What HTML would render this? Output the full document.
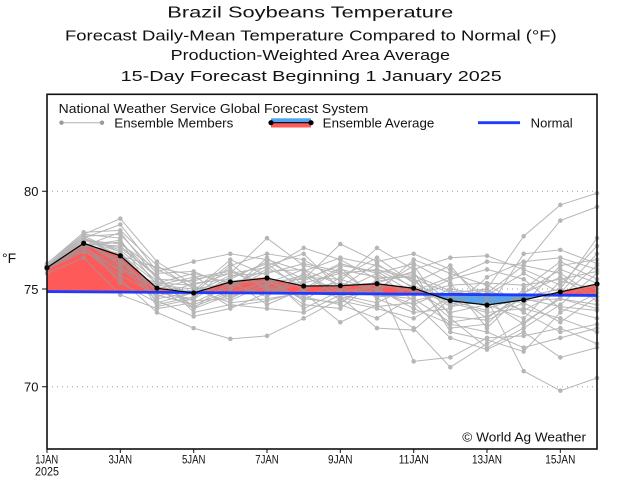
<!DOCTYPE html>
<html>
<head>
<meta charset="utf-8">
<style>
html,body{margin:0;padding:0;background:#fff;}
svg{display:block;}
text{font-family:"Liberation Sans",sans-serif;fill:#111;}
</style>
</head>
<body>
<svg width="624" height="479" viewBox="0 0 624 479" xmlns="http://www.w3.org/2000/svg">
<defs>
<marker id="gd" markerUnits="userSpaceOnUse" refX="0" refY="0" markerWidth="1" markerHeight="1" overflow="visible">
<ellipse cx="0" cy="0" rx="0.062" ry="0.117" fill="#9a9a9a"/>
</marker>
<marker id="bd" markerUnits="userSpaceOnUse" refX="0" refY="0" markerWidth="1" markerHeight="1" overflow="visible">
<ellipse cx="0" cy="0" rx="0.07" ry="0.132" fill="#000"/>
</marker>
</defs>
<rect width="624" height="479" fill="#fff"/>

<!-- Titles -->
<text x="167.3" y="17.3" font-size="16" textLength="286" lengthAdjust="spacingAndGlyphs">Brazil Soybeans Temperature</text>
<text x="65" y="40.7" font-size="14.5" textLength="491.7" lengthAdjust="spacingAndGlyphs">Forecast Daily-Mean Temperature Compared to Normal (°F)</text>
<text x="170.7" y="60" font-size="14.5" textLength="279.3" lengthAdjust="spacingAndGlyphs">Production-Weighted Area Average</text>
<text x="120.7" y="80.8" font-size="14.5" textLength="381" lengthAdjust="spacingAndGlyphs">15-Day Forecast Beginning 1 January 2025</text>

<!-- gridlines -->
<g stroke="#999" stroke-width="1" stroke-dasharray="1 4">
<line x1="47" y1="191.25" x2="597" y2="191.25"/>
<line x1="47" y1="289" x2="597" y2="289"/>
<line x1="47" y1="386.75" x2="597" y2="386.75"/>
</g>

<!-- data group -->
<g transform="matrix(36.6667 0 0 -19.55 10.3333 1755.25)">
<polygon fill="#ff5a5a" points="1,76.09 2,77.34 3,76.70 4,75.04 4.913,74.82 4,74.83 1,74.87"/>
<polygon fill="#ff5a5a" points="5.034,74.82 6,75.36 7,75.56 8,75.15 9,75.17 10,75.27 11,75.04 11.484,74.73 11,74.74 6,74.80"/>
<polygon fill="#50a6f2" points="11.484,74.73 12,74.40 13,74.18 14,74.44 14.595,74.68 14,74.69 12,74.72"/>
<polygon fill="#ff5a5a" points="14.595,74.68 15,74.85 16,75.26 16,74.67 15,74.68"/>

<g fill="none" stroke="#9a9a9a" stroke-width="1" vector-effect="non-scaling-stroke" opacity="0.72" marker-start="url(#gd)" marker-mid="url(#gd)" marker-end="url(#gd)">
<polyline vector-effect="non-scaling-stroke" points="1,76.2 2,77.8 3,78.6 4,76.4 5,75.2 6,75.8 7,77.6 8,76.2 9,75.8 10,76.0 11,75.5 12,74.8 13,75.0 14,77.7 15,79.3 16,79.9"/>
<polyline vector-effect="non-scaling-stroke" points="1,76.1 2,77.6 3,78.3 4,75.9 5,76.4 6,76.8 7,76.5 8,75.9 9,76.6 10,76.2 11,75.4 12,74.2 13,74.8 14,76.2 15,78.5 16,79.2"/>
<polyline vector-effect="non-scaling-stroke" points="1,76.0 2,77.0 3,75.5 4,73.8 5,73.0 6,72.45 7,72.6 8,73.5 9,74.5 10,75.0 11,74.0 12,73.2 13,72.8 14,72.0 15,72.5 16,73.0"/>
<polyline vector-effect="non-scaling-stroke" points="1,76.3 2,77.9 3,78.0 4,76.2 5,75.0 6,74.3 7,74.5 8,74.8 9,73.3 10,74.2 11,73.0 12,71.0 13,72.2 14,73.3 15,74.5 16,74.0"/>
<polyline vector-effect="non-scaling-stroke" points="1,75.8 2,76.6 3,74.7 4,74.0 5,74.3 6,75.2 7,76.0 8,77.1 9,76.5 10,75.5 11,71.3 12,71.5 13,72.5 14,72.6 15,73.0 16,72.2"/>
<polyline vector-effect="non-scaling-stroke" points="1,76.1 2,77.3 3,77.2 4,75.6 5,74.1 6,74.8 7,75.4 8,75.5 9,77.3 10,76.4 11,76.8 12,76.0 13,74.5 14,70.8 15,69.8 16,70.45"/>
<polyline vector-effect="non-scaling-stroke" points="1,76.2 2,77.5 3,76.9 4,74.8 5,74.5 6,76.2 7,76.8 8,76.5 9,75.4 10,77.1 11,76.0 12,76.6 13,76.7 14,76.0 15,75.2 16,77.2"/>
<polyline vector-effect="non-scaling-stroke" points="1,76.0 2,77.2 3,77.5 4,75.2 5,75.6 6,75.9 7,75.1 8,74.6 9,74.2 10,73.5 11,74.6 12,75.5 13,76.0 14,75.5 15,74.0 16,73.5"/>
<polyline vector-effect="non-scaling-stroke" points="1,76.1 2,77.4 3,76.2 4,74.4 5,73.6 6,74.0 7,74.8 8,75.3 9,75.8 10,76.0 11,75.1 12,73.5 13,72.0 14,73.0 15,74.2 16,75.8"/>
<polyline vector-effect="non-scaling-stroke" points="1,76.2 2,77.7 3,77.8 4,75.8 5,75.9 6,75.1 7,76.2 8,76.8 9,75.0 10,74.8 11,76.5 12,75.8 13,75.2 14,74.2 15,76.2 16,76.5"/>
<polyline vector-effect="non-scaling-stroke" points="1,76.0 2,77.1 3,75.9 4,75.1 5,74.9 6,76.5 7,75.7 8,74.0 9,74.9 10,75.8 11,74.4 12,74.8 13,73.5 14,74.8 15,75.6 16,74.4"/>
<polyline vector-effect="non-scaling-stroke" points="1,76.1 2,77.3 3,76.5 4,74.6 5,75.3 6,75.5 7,74.2 8,75.0 9,76.1 10,74.5 11,73.8 12,74.0 13,75.6 14,76.4 15,76.6 16,76.0"/>
<polyline vector-effect="non-scaling-stroke" points="1,76.2 2,77.6 3,77.0 4,75.4 5,74.7 6,75.0 7,75.9 8,76.0 9,75.2 10,75.3 11,75.9 12,72.8 13,72.4 14,71.8 15,73.8 16,74.8"/>
<polyline vector-effect="non-scaling-stroke" points="1,76.0 2,77.2 3,76.8 4,75.0 5,74.0 6,75.4 7,75.6 8,74.4 9,75.6 10,76.6 11,75.3 12,76.2 13,74.0 14,74.6 15,75.0 16,77.6"/>
<polyline vector-effect="non-scaling-stroke" points="1,76.1 2,77.5 3,77.3 4,76.0 5,75.1 6,74.6 7,75.2 8,75.7 9,74.6 10,73.0 11,72.9 12,74.5 13,75.0 14,73.8 15,72.8 16,73.2"/>
<polyline vector-effect="non-scaling-stroke" points="1,76.3 2,77.8 3,77.6 4,74.2 5,74.6 6,75.6 7,76.3 8,74.9 9,76.0 10,75.6 11,75.6 12,73.0 13,73.2 14,75.0 15,76.4 16,75.5"/>
<polyline vector-effect="non-scaling-stroke" points="1,76.0 2,76.9 3,76.0 4,75.3 5,75.8 6,75.3 7,74.6 8,75.8 9,74.8 10,75.2 11,74.9 12,75.6 13,76.4 14,76.2 15,75.8 16,74.6"/>
<polyline vector-effect="non-scaling-stroke" points="1,76.2 2,77.4 3,76.4 4,74.9 5,74.4 6,74.5 7,75.5 8,74.2 9,74.0 10,75.5 11,75.8 12,74.3 13,73.8 14,74.0 15,73.5 16,72.8"/>
<polyline vector-effect="non-scaling-stroke" points="1,76.1 2,77.2 3,77.9 4,75.5 5,75.4 6,76.0 7,75.0 8,75.6 9,75.5 10,74.9 11,74.2 12,75.0 13,74.7 14,75.8 15,74.8 16,76.8"/>
<polyline vector-effect="non-scaling-stroke" points="1,76.0 2,77.0 3,75.7 4,74.7 5,74.2 6,74.9 7,76.6 8,75.2 9,75.1 10,76.3 11,75.0 12,73.8 13,74.2 14,73.5 15,75.4 16,75.0"/>
<polyline vector-effect="non-scaling-stroke" points="1,76.2 2,77.6 3,76.7 4,76.1 5,75.7 6,74.4 7,75.3 8,76.0 9,74.4 10,74.0 11,73.5 12,74.6 13,74.9 14,74.4 15,74.5 16,74.2"/>
<polyline vector-effect="non-scaling-stroke" points="1,76.1 2,77.3 3,75.3 4,74.3 5,74.8 6,76.3 7,74.9 8,75.4 9,76.3 10,75.8 11,76.3 12,75.3 13,73.0 14,74.8 15,76.0 16,75.3"/>
<polyline vector-effect="non-scaling-stroke" points="1,76.1 2,77.5 3,77.1 4,75.7 5,73.8 6,74.2 7,74.0 8,73.8 9,74.7 10,74.3 11,75.2 12,74.1 13,74.4 14,73.2 15,74.6 16,76.2"/>
<polyline vector-effect="non-scaling-stroke" points="1,76.0 2,77.4 3,76.3 4,75.0 5,75.5 6,75.8 7,76.1 8,75.1 9,75.3 10,75.0 11,76.2 12,73.6 13,73.4 14,74.3 15,73.3 16,74.6"/>
<polyline vector-effect="non-scaling-stroke" points="1,76.2 2,77.6 3,76.6 4,74.5 5,74.8 6,75.7 7,75.8 8,76.3 9,75.9 10,74.6 11,74.7 12,75.2 13,75.3 14,75.2 15,75.5 16,75.9"/>
<polyline vector-effect="non-scaling-stroke" points="1,76.1 2,77.2 3,77.4 4,75.6 5,74.0 6,74.7 7,75.0 8,74.7 9,75.0 10,74.7 11,74.5 12,73.3 13,73.6 14,74.5 15,74.1 16,73.9"/>
<polyline vector-effect="non-scaling-stroke" points="1,76.0 2,77.1 3,76.1 4,75.2 5,75.0 6,75.3 7,75.4 8,74.5 9,74.3 10,75.4 11,75.7 12,74.9 13,74.6 14,73.9 15,74.9 16,75.2"/>
<polyline vector-effect="non-scaling-stroke" points="1,76.2 2,77.7 3,76.9 4,74.1 5,74.5 6,75.5 7,76.4 8,75.5 9,76.2 10,75.9 11,74.8 12,74.4 13,73.9 14,76.8 15,77.0 16,76.3"/>
<polyline vector-effect="non-scaling-stroke" points="1,76.1 2,77.3 3,76.8 4,75.3 5,75.2 6,74.1 7,74.4 8,74.9 9,74.6 10,74.1 11,74.3 12,72.5 13,71.9 14,72.8 15,71.5 16,72.0"/>
</g>

<!-- normal line -->
<line x1="1" y1="74.87" x2="16" y2="74.67" stroke="#1e3cff" stroke-width="2.8" vector-effect="non-scaling-stroke"/>
<!-- ensemble average -->
<polyline fill="none" stroke="#000" stroke-width="1.2" vector-effect="non-scaling-stroke" marker-start="url(#bd)" marker-mid="url(#bd)" marker-end="url(#bd)" points="1,76.09 2,77.34 3,76.70 4,75.04 5,74.80 6,75.36 7,75.56 8,75.15 9,75.17 10,75.27 11,75.04 12,74.40 13,74.18 14,74.44 15,74.85 16,75.26"/>
</g>

<!-- frame -->
<rect x="47" y="94.3" width="550" height="354.7" fill="none" stroke="#111" stroke-width="1.6"/>

<!-- y ticks and labels -->
<g stroke="#111" stroke-width="1">
<line x1="42" y1="191.25" x2="47" y2="191.25"/>
<line x1="42" y1="289" x2="47" y2="289"/>
<line x1="42" y1="386.75" x2="47" y2="386.75"/>
</g>
<g font-size="13" text-anchor="end">
<text x="38.5" y="196">80</text>
<text x="38.5" y="293.8">75</text>
<text x="38.5" y="391.5">70</text>
</g>
<text x="2" y="263" font-size="14">°F</text>

<!-- x ticks -->
<g stroke="#111" stroke-width="1">
<line x1="47" y1="449" x2="47" y2="453"/>
<line x1="120.3" y1="449" x2="120.3" y2="453"/>
<line x1="193.7" y1="449" x2="193.7" y2="453"/>
<line x1="267" y1="449" x2="267" y2="453"/>
<line x1="340.3" y1="449" x2="340.3" y2="453"/>
<line x1="413.7" y1="449" x2="413.7" y2="453"/>
<line x1="487" y1="449" x2="487" y2="453"/>
<line x1="560.3" y1="449" x2="560.3" y2="453"/>
</g>
<g font-size="11.5" text-anchor="middle">
<text x="46.7" y="463.5" textLength="23" lengthAdjust="spacingAndGlyphs">1JAN</text>
<text x="47" y="475.3" textLength="24" lengthAdjust="spacingAndGlyphs">2025</text>
<text x="120.3" y="463.5" textLength="23.5" lengthAdjust="spacingAndGlyphs">3JAN</text>
<text x="193.7" y="463.5" textLength="23.5" lengthAdjust="spacingAndGlyphs">5JAN</text>
<text x="267" y="463.5" textLength="23.5" lengthAdjust="spacingAndGlyphs">7JAN</text>
<text x="340.3" y="463.5" textLength="24.5" lengthAdjust="spacingAndGlyphs">9JAN</text>
<text x="413.7" y="463.5" textLength="30" lengthAdjust="spacingAndGlyphs">11JAN</text>
<text x="487" y="463.5" textLength="30" lengthAdjust="spacingAndGlyphs">13JAN</text>
<text x="560.3" y="463.5" textLength="30" lengthAdjust="spacingAndGlyphs">15JAN</text>
</g>

<!-- legend -->
<text x="58.7" y="113.2" font-size="12.5" textLength="309.6" lengthAdjust="spacingAndGlyphs">National Weather Service Global Forecast System</text>
<line x1="61" y1="122.7" x2="102" y2="122.7" stroke="#b0b0b0" stroke-width="1"/>
<circle cx="61.5" cy="122.7" r="2.2" fill="#9a9a9a"/>
<circle cx="102" cy="122.7" r="2.2" fill="#9a9a9a"/>
<text x="114.3" y="127.5" font-size="12.5" textLength="119" lengthAdjust="spacingAndGlyphs">Ensemble Members</text>

<rect x="271" y="118.3" width="40" height="4.6" fill="#50a6f2"/>
<rect x="271" y="122.9" width="40" height="4.6" fill="#ff5a5a"/>
<line x1="271" y1="122.7" x2="311" y2="122.7" stroke="#000" stroke-width="1.2"/>
<circle cx="271" cy="122.7" r="2.6" fill="#000"/>
<circle cx="311" cy="122.7" r="2.6" fill="#000"/>
<text x="322.7" y="127.5" font-size="12.5" textLength="111.6" lengthAdjust="spacingAndGlyphs">Ensemble Average</text>

<line x1="478" y1="122.7" x2="520" y2="122.7" stroke="#1e3cff" stroke-width="2.8"/>
<text x="530.7" y="127.5" font-size="12.5" textLength="42" lengthAdjust="spacingAndGlyphs">Normal</text>

<!-- copyright -->
<text x="462.3" y="441.7" font-size="12.5" textLength="123.7" lengthAdjust="spacingAndGlyphs">© World Ag Weather</text>
</svg>
</body>
</html>
